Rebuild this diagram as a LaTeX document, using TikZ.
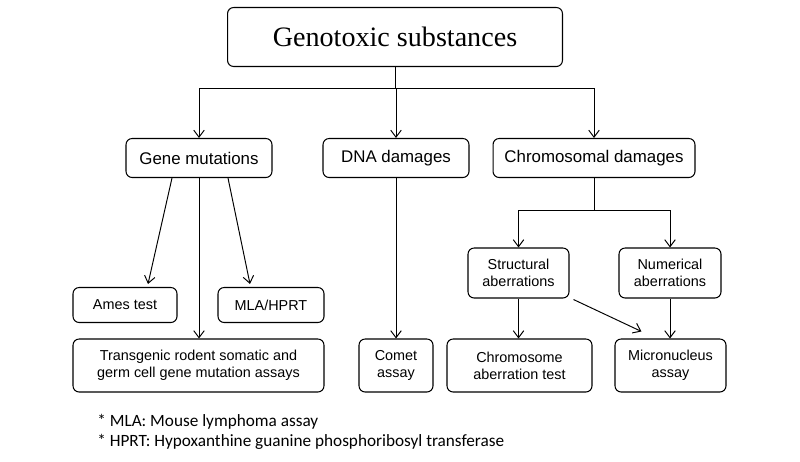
\documentclass[tikz,border=0pt]{standalone}
\usepackage{fontspec}
\setmainfont{Liberation Serif}
\setsansfont{Liberation Sans}
\newfontfamily\notefont{Carlito}
\usepackage{tikz}
\usetikzlibrary{arrows.meta, calc}

\tikzset{
  box/.style={draw, rounded corners=3.5pt, line width=0.6pt, align=center, inner sep=0pt},
  bigtext/.style={font=\sffamily\fontsize{9.6}{11}\selectfont},
  smalltext/.style={font=\sffamily\fontsize{8.2}{9.6}\selectfont},
  arr/.style={line width=0.55pt, -{Straight Barb[length=4pt,width=6pt]}},
  link/.style={line width=0.55pt}
}

\begin{document}
\begin{tikzpicture}[x=0.02cm, y=-0.02cm]
\useasboundingbox (0,0) rectangle (800,461);

% top
\node[box, minimum width=6.7cm, minimum height=1.18cm, font=\fontsize{16}{18}\selectfont] (title) at (395,37) {Genotoxic substances};

% second row
\node[box, bigtext, minimum width=2.92cm, minimum height=0.78cm] (gene) at (199,158) {Gene mutations};
\node[box, bigtext, minimum width=2.92cm, minimum height=0.78cm] (dna) at (396,158) {DNA damages};
\node[box, bigtext, minimum width=4.04cm, minimum height=0.78cm] (chrom) at (594,158) {Chromosomal damages};

% aberrations
\node[box, smalltext, minimum width=2.02cm, minimum height=1.0cm] (struct) at (518.5,273) {Structural\\aberrations};
\node[box, smalltext, minimum width=2.04cm, minimum height=1.0cm] (numer) at (670,273) {Numerical\\aberrations};

% assays
\node[box, smalltext, minimum width=2.08cm, minimum height=0.7cm] (ames) at (125,305) {Ames test};
\node[box, smalltext, minimum width=2.12cm, minimum height=0.7cm] (mla) at (271,305) {MLA/HPRT};
\node[box, smalltext, minimum width=5.02cm, minimum height=1.06cm] (trans) at (198.5,365.5) {Transgenic rodent somatic and\\germ cell gene mutation assays};
\node[box, smalltext, minimum width=1.48cm, minimum height=1.06cm] (comet) at (396,365.5) {Comet\\assay};
\node[box, smalltext, minimum width=2.9cm, minimum height=1.06cm] (chromtest) at (519.5,365.5) {Chromosome\\aberration test};
\node[box, smalltext, minimum width=2.22cm, minimum height=1.06cm] (micro) at (670.5,365.5) {Micronucleus\\assay};

% notes
\node[anchor=west, inner sep=0pt, font=\notefont\fontsize{9.8}{11}\selectfont] (note1) at (97,422) {* MLA: Mouse lymphoma assay};
\node[anchor=west, inner sep=0pt, font=\notefont\fontsize{9.8}{11}\selectfont] (note2) at (97,442) {* HPRT: Hypoxanthine guanine phosphoribosyl transferase};

% connectors
\coordinate (bar) at (395,88);
\draw[link] (title.south) -- (bar);
\draw[link] (bar -| gene) -- (bar -| chrom);
\draw[arr] (bar -| gene) -- (gene.north);
\draw[arr] (bar -| dna) -- (dna.north);
\draw[arr] (bar -| chrom) -- (chrom.north);

\draw[arr] ($(gene.south)+(-27,0)$) -- ($(ames.north)+(23,-3)$);
\draw[arr] ($(gene.south)+(29,0)$) -- ($(mla.north)+(-21,-3)$);
\draw[arr] (gene.south) -- (gene.south |- trans.north);
\draw[arr] (dna.south) -- (comet.north);

\coordinate (split) at (594,210);
\draw[link] (chrom.south) -- (split);
\draw[link] (split -| struct) -- (split -| numer);
\draw[arr] (split -| struct) -- (struct.north);
\draw[arr] (split -| numer) -- (numer.north);

\draw[arr] (struct.south) -- (struct.south |- chromtest.north);
\draw[arr] (numer.south) -- (numer.south |- micro.north);
\draw[arr] ($(struct.south east)+(4,1)$) -- ($(micro.north west)+(27,-7)$);
\end{tikzpicture}
\end{document}
